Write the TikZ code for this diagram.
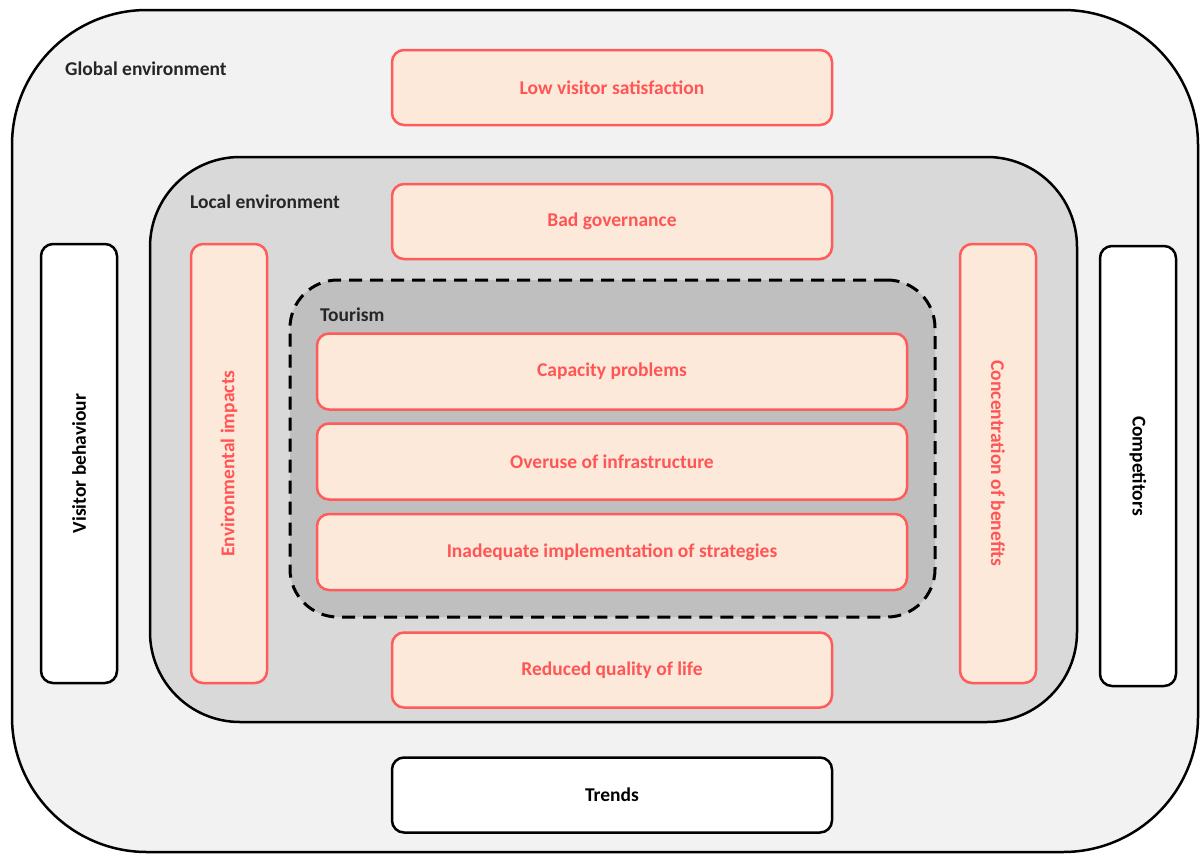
\documentclass[tikz,border=0pt]{standalone}
\usepackage{fontspec}
\setmainfont{Carlito}
\definecolor{globalfill}{HTML}{F2F2F2}
\definecolor{localfill}{HTML}{D9D9D9}
\definecolor{tourfill}{HTML}{BFBFBF}
\definecolor{redline}{HTML}{FF5B5B}
\definecolor{redfill}{HTML}{FDE9DA}
\definecolor{redtext}{HTML}{FF5555}
\begin{document}
\begin{tikzpicture}[x=1pt,y=-1pt,
  txt/.style={font=\fontsize{19.5}{23}\selectfont\bfseries},
  container/.style={draw=black,line width=2.5pt,inner sep=0pt},
  issue/.style={draw=redline,fill=redfill,line width=2.5pt,rounded corners=12pt,inner sep=0pt,
    text=redtext,txt},
  outside/.style={draw=black,fill=white,line width=2.5pt,rounded corners=12pt,inner sep=0pt,
    text=black,txt},
  hbox/.style={minimum width=440pt,minimum height=75pt},
  tbox/.style={minimum width=590pt,minimum height=76pt},
  vbox/.style={minimum width=76pt,minimum height=439pt},
  lbl/.style={anchor=west,inner sep=0pt,txt,text=black!85}]
\useasboundingbox (0,0) rectangle (1202,854);
\fill[white] (0,0) rectangle (1202,854);
% containers
\node[container,fill=globalfill,rounded corners=135pt,minimum width=1186pt,minimum height=842pt] (global) at (605,431) {};
\node[container,fill=localfill,rounded corners=90pt,minimum width=927pt,minimum height=565pt] (local) at (613.5,439.5) {};
\node[container,fill=tourfill,dashed,dash pattern=on 13pt off 8pt,rounded corners=48pt,line width=3pt,minimum width=645pt,minimum height=337pt] (tourism) at (612.5,448.5) {};
% labels
\node[lbl] (lglobal) at (65,69) {Global environment};
\node[lbl] (llocal) at (190,202) {Local environment};
\node[lbl] (ltour) at (320,315) {Tourism};
% horizontal issues
\node[issue,hbox] (lvs) at (612,87.5) {Low visitor satisfaction};
\node[issue,hbox] (bg) at (612,221.5) {Bad governance};
\node[issue,hbox] (rql) at (612,670) {Reduced quality of life};
\node[outside,hbox] (trends) at (612,795) {Trends};
% tourism issues
\node[issue,tbox] (cap) at (612,371.5) {Capacity problems};
\node[issue,tbox] (over) at (612,461.5) {Overuse of infrastructure};
\node[issue,tbox] (inad) at (612,552) {Inadequate implementation of strategies};
% vertical
\node[outside,vbox] (vb) at (79,463.5) {};
\node[rotate=90,txt] (vbt) at (vb.center) {Visitor behaviour};
\node[issue,vbox] (env) at (229,463.5) {};
\node[rotate=90,text=redtext,txt] (envt) at (env.center) {Environmental impacts};
\node[issue,vbox] (conc) at (998,463.5) {};
\node[rotate=-90,text=redtext,txt] (conct) at (conc.center) {Concentration of benefits};
\node[outside,vbox,minimum height=440pt] (comp) at (1138,466) {};
\node[rotate=-90,txt] (compt) at (comp.center) {Competitors};
\end{tikzpicture}
\end{document}
